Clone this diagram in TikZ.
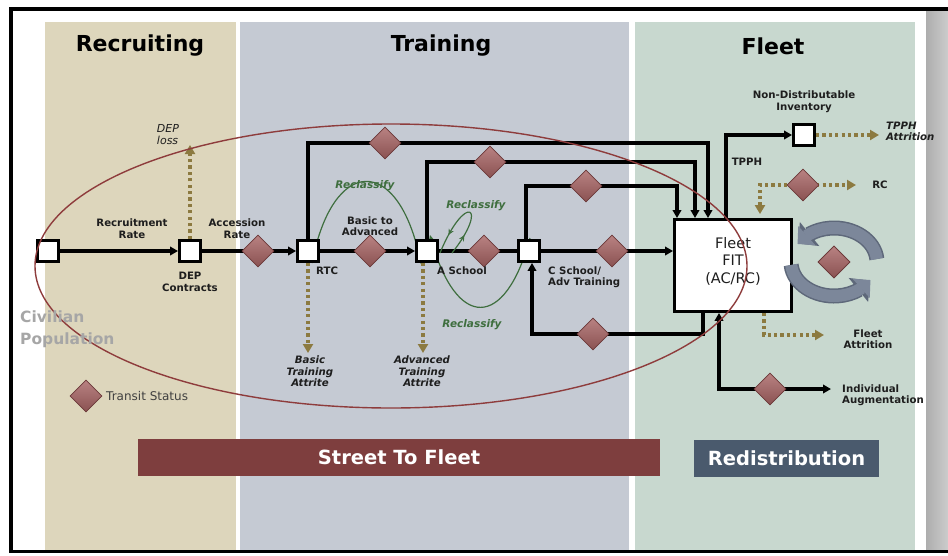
\documentclass[tikz,border=0pt]{standalone}
\usepackage{fontspec}
\setmainfont{DejaVu Sans}
\usetikzlibrary{arrows.meta,shapes.geometric,decorations.markings,bending}
\pgfdeclarelayer{panels}
\pgfdeclarelayer{links}
\pgfsetlayers{panels,links,main}

\definecolor{recbg}{HTML}{DDD6BC}
\definecolor{trnbg}{HTML}{C5CAD3}
\definecolor{fltbg}{HTML}{C8D8CF}
\definecolor{bannerRed}{HTML}{7E3E3E}
\definecolor{bannerSlate}{HTML}{4A5A6D}
\definecolor{diaLight}{HTML}{B98282}
\definecolor{diaDark}{HTML}{8A5252}
\definecolor{diaEdge}{HTML}{6A3838}
\definecolor{leakOlive}{HTML}{8C7A40}
\definecolor{reclassGreen}{HTML}{3E6E3E}
\definecolor{ringRed}{HTML}{8E3C3C}
\definecolor{cycleBlue}{HTML}{7C879A}
\definecolor{cycleEdge}{HTML}{5E687A}
\definecolor{labelInk}{HTML}{1E1E1E}
\definecolor{civGray}{HTML}{A6A6A6}

\tikzset{
  flow/.style={draw=black, line width=3.3pt},
  flowto/.style={flow, -{Triangle[length=8pt,width=8.5pt]}},
  flowboth/.style={flow, {Triangle[length=8pt,width=8.5pt]}-{Triangle[length=8pt,width=8.5pt]}},
  leak/.style={draw=leakOlive, line width=3.2pt, dash pattern=on 3.2pt off 3.2pt, -{Triangle[length=9pt,width=10pt]}},
  leakboth/.style={draw=leakOlive, line width=3.2pt, dash pattern=on 3.2pt off 3.2pt, {Triangle[length=9pt,width=10pt]}-{Triangle[length=9pt,width=10pt]}},
  stock/.style={draw=black, line width=2.9pt, fill=white, minimum size=21pt, inner sep=0pt},
  transit/.style={diamond, aspect=1, minimum width=32pt, minimum height=32pt, inner sep=0pt,
    draw=diaEdge, line width=0.7pt, top color=diaLight, bottom color=diaDark},
  reclass/.style={draw=reclassGreen, line width=1.2pt, -{Stealth[length=6pt,width=5.5pt]}},
  lbl/.style={font=\bfseries\fontsize{10.2}{11.5}\selectfont, text=labelInk, align=center, inner sep=0pt},
  ilbl/.style={font=\bfseries\itshape\fontsize{10.2}{11.5}\selectfont, text=labelInk, align=center, inner sep=0pt},
  glbl/.style={font=\bfseries\itshape\fontsize{10.5}{12}\selectfont, text=reclassGreen, inner sep=0pt},
  title/.style={font=\bfseries\fontsize{22}{26}\selectfont, text=black, inner sep=0pt},
  banner/.style={font=\bfseries\fontsize{19.5}{22}\selectfont, text=white, minimum height=37pt, inner sep=0pt},
  cycleedge/.style={draw=cycleEdge, line width=15pt, -{Triangle[length=15pt,width=30pt]}},
  cyclearrow/.style={draw=cycleBlue, line width=12pt, -{Triangle[length=12.5pt,width=25pt]}},
}

\begin{document}
\begin{tikzpicture}[x=1pt, y=-1pt]
\useasboundingbox (0,0) rectangle (948,555);

% ---------- frame and phase panels ----------
\begin{pgfonlayer}{panels}
  \fill[white] (0,0) rectangle (948,555);
  \shade[left color=black!32, right color=black!20] (926,11) rectangle (948,550);
  \fill[recbg] (45,22) rectangle (236,550);
  \fill[trnbg] (240,22) rectangle (629,550);
  \fill[fltbg] (635,22) rectangle (915,550);
  \draw[line width=3.5pt] (9.3,9) -- (948,9);
  \draw[line width=3.5pt] (11,7.3) -- (11,553.2);
  \draw[line width=3.5pt] (9.3,551.5) -- (948,551.5);
\end{pgfonlayer}

% ---------- phase titles ----------
\node[title] (tRec) at (140,46) {Recruiting};
\node[title] (tTrn) at (441,46) {Training};
\node[title] (tFlt) at (773,46) {Fleet};

% ---------- stocks ----------
\node[stock] (civ)  at (48,251) {};
\node[stock] (dep)  at (190,251) {};
\node[stock] (rtc)  at (308,251) {};
\node[stock] (asch) at (427,251) {};
\node[stock] (csch) at (529,251) {};
\node[stock] (ndi)  at (804,135) {};
\node[draw=black, line width=2.9pt, fill=white, minimum width=117pt, minimum height=92pt, inner sep=0pt]
  (fleet) at (733,265.5) {};
\node[font=\fontsize{14.5}{17.5}\selectfont, text=labelInk, align=center, inner sep=0pt]
  (fleetText) at (733,261) {Fleet\\FIT\\(AC/RC)};

% ---------- transit diamonds ----------
\node[transit] (dAcc) at (258,251) {};
\node[transit] (dB2A) at (370,251) {};
\node[transit] (dAC)  at (484,251) {};
\node[transit] (dCF)  at (612,251) {};
\node[transit] (dR)   at (385,143) {};
\node[transit] (dA)   at (490,162) {};
\node[transit] (dC)   at (586,186) {};
\node[transit] (dFC)  at (593,334) {};
\node[transit] (dIA)  at (770,389) {};
\node[transit] (dRC)  at (803,185) {};
\node[transit] (dCyc) at (834,262) {};
\node[transit] (legendDia) at (86,396) {};

% ---------- free ends ----------
\coordinate (depLossEnd) at (190,145);
\coordinate (basicEnd) at (308,353);
\coordinate (advEnd) at (423,353);
\coordinate (tpphEnd) at (879,135);
\coordinate (rcEnd) at (856,185);
\coordinate (attrEnd) at (824,335);
\coordinate (iaEnd) at (831,389);

% ---------- flows ----------
\begin{pgfonlayer}{links}
  \draw[flowto] (civ) -- (dep);
  \draw[flowto] (dep) -- (dAcc.center) -- (rtc);
  \draw[flowto] (rtc) -- (dB2A.center) -- (asch);
  \draw[flow] (asch) -- (dAC.center) -- (csch);
  \draw[flowto] (csch) -- (dCF.center) -- (dCF.center -| fleet.west);
  \draw[flowto] (rtc.north) |- (dR.center) -| ([xshift=-25pt]fleet.north);
  \draw[flowto] (asch.north) |- (dA.center) -| ([xshift=-38pt]fleet.north);
  \draw[flowto] ([xshift=-3pt]csch.north) |- (dC.center) -| ([xshift=-56pt]fleet.north);
  \draw[flowto] ([xshift=-30pt]fleet.south) |- (dFC.center) -| ([xshift=3pt]csch.south);
  \draw[flowboth] ([xshift=-14pt]fleet.south) |- (dIA.center) -- (iaEnd);
  \draw[flowto] ([xshift=-7pt]fleet.north) |- (ndi);

  % attrition and reserve leaks
  \draw[leak] (dep.north) -- (depLossEnd);
  \draw[leak] (rtc.south) -- (basicEnd);
  \draw[leak] ([xshift=-4pt]asch.south) -- (advEnd);
  \draw[leak] (ndi) -- (tpphEnd);
  \draw[leakboth, shorten <=4pt] ([xshift=27pt]fleet.north) |- (dRC.center) -- (rcEnd);
  \draw[leak] ([xshift=31pt]fleet.south) |- (attrEnd);

  % reclassification paths
  \draw[reclass] ([shift={(4pt,-12pt)}]rtc.center) .. controls (333,154) and (400,154) .. ([shift={(-6pt,-13pt)}]asch.center);
  \draw[draw=reclassGreen, line width=1.2pt,
        decoration={markings,
          mark=at position 0.22 with {\arrow{Stealth[length=6pt,width=5.5pt]}},
          mark=at position 0.8 with {\arrow{Stealth[length=6pt,width=5.5pt]}}},
        postaction={decorate}]
    ([shift={(25pt,-2pt)}]asch.center) .. controls (490,205) and (465,192) .. ([shift={(13pt,-2pt)}]asch.center);
  \draw[reclass] ([shift={(1pt,13pt)}]csch.center) .. controls (505,331) and (455,331) .. ([shift={(3pt,16pt)}]asch.center);
\end{pgfonlayer}

% ---------- redistribution cycle ----------
\draw[cycleedge] ([shift={(5:43pt and 34pt)}]dCyc.center) arc[start angle=5, end angle=147, x radius=43pt, y radius=34pt];
\draw[cyclearrow] ([shift={(5:43pt and 34pt)}]dCyc.center) arc[start angle=5, end angle=148, x radius=43pt, y radius=34pt];
\draw[cycleedge] ([shift={(185:43pt and 34pt)}]dCyc.center) arc[start angle=185, end angle=327, x radius=43pt, y radius=34pt];
\draw[cyclearrow] ([shift={(185:43pt and 34pt)}]dCyc.center) arc[start angle=185, end angle=328, x radius=43pt, y radius=34pt];
\node[transit] (dCycTop) at (dCyc) {};

% ---------- street-to-fleet scope ----------
\draw[ringRed, line width=1.4pt] (391,266) ellipse [x radius=356pt, y radius=142pt];

% ---------- labels ----------
\node[font=\bfseries\fontsize{15.5}{22}\selectfont, text=civGray, align=left, anchor=west, inner sep=0pt]
  (tCiv) at (20,329.5) {Civilian\\Population};
\node[lbl] (tRecRate) at (132,228.5) {Recruitment\\Rate};
\node[lbl] (tAccRate) at (237,228.5) {Accession\\Rate};
\node[lbl] (tDep) at (190,282) {DEP\\Contracts};
\node[font=\itshape\fontsize{11}{12.5}\selectfont, text=labelInk, align=left, inner sep=0pt] (tDepLoss) at (168,134.5) {DEP\\loss};
\node[lbl, anchor=west] (tRtc) at (316,271) {RTC};
\node[lbl] (tB2A) at (370,226) {Basic to\\Advanced};
\node[lbl, anchor=west] (tAsch) at (437,271) {A School};
\node[lbl, anchor=west, align=left] (tCsch) at (548,277) {C School/\\Adv Training};
\node[ilbl] (tBasic) at (310,371.5) {Basic\\Training\\Attrite};
\node[ilbl] (tAdv) at (422,371.5) {Advanced\\Training\\Attrite};
\node[glbl] (tRe1) at (365,186) {Reclassify};
\node[glbl] (tRe2) at (476,206) {Reclassify};
\node[glbl] (tRe3) at (472,325) {Reclassify};
\node[lbl] (tNdi) at (804,101.5) {Non-Distributable\\Inventory};
\node[lbl] (tTpph) at (747,162) {TPPH};
\node[ilbl, anchor=west, align=left] (tTpphAttr) at (886,131.5) {TPPH\\Attrition};
\node[lbl] (tRc) at (880,185) {RC};
\node[lbl] (tFleetAttr) at (868,339) {Fleet\\Attrition};
\node[lbl, anchor=west, align=left] (tIA) at (842,395) {Individual\\Augmentation};
\node[font=\fontsize{12}{14}\selectfont, text=labelInk!85, anchor=west, inner sep=0pt] (tLegend) at (106,396) {Transit Status};

% ---------- phase banners ----------
\node[banner, fill=bannerRed, minimum width=522pt] (bStreet) at (399,457.5) {Street To Fleet};
\node[banner, fill=bannerSlate, minimum width=185pt] (bRedist) at (786.5,458.5) {Redistribution};
\end{tikzpicture}
\end{document}
